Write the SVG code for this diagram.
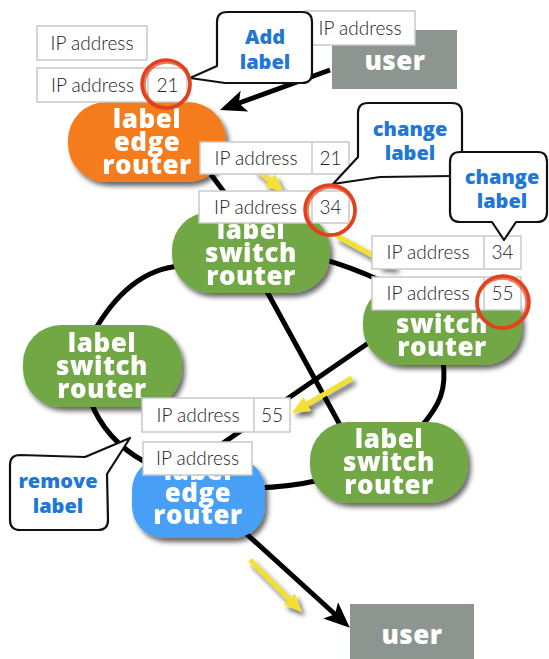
<svg xmlns="http://www.w3.org/2000/svg" width="549" height="659" viewBox="0 0 549 659">
<defs>
<filter id="sh" x="-20%" y="-20%" width="150%" height="150%">
<feGaussianBlur in="SourceAlpha" stdDeviation="2.5"/>
<feOffset dx="3" dy="4" result="b"/>
<feComponentTransfer><feFuncA type="linear" slope="0.6"/></feComponentTransfer>
<feMerge><feMergeNode/><feMergeNode in="SourceGraphic"/></feMerge>
</filter>
<marker id="ab" markerUnits="userSpaceOnUse" markerWidth="28" markerHeight="24" refX="10" refY="11" orient="auto" viewBox="0 0 28 24">
<path d="M0,0 L26,11 L0,22 L6,11 Z" fill="#000"/>
</marker>
<marker id="ay" markerUnits="userSpaceOnUse" markerWidth="20" markerHeight="18" refX="4" refY="8" orient="auto" viewBox="0 0 20 18">
<path d="M0,0 L18,8 L0,16 Z" fill="#F2E032"/>
</marker>
</defs>
<style>
.rt{font-family:"Open Sans","Liberation Sans",sans-serif;font-weight:800;font-size:26px;fill:#fff;text-anchor:middle;letter-spacing:0.5px}
.ip{fill:#fff;stroke:#c9c9c9;stroke-width:1.5}
.ipt{font-family:Lato,"Liberation Sans",sans-serif;font-weight:300;font-size:19px;fill:#222;text-anchor:middle}
.co{fill:#fff;stroke:#111;stroke-width:2.2;stroke-linejoin:round}
.cot{font-family:"Open Sans","Liberation Sans",sans-serif;font-weight:800;font-size:20px;fill:#1F77D6;text-anchor:middle}
.ln{fill:none;stroke:#000;stroke-width:5}
.yl{fill:none;stroke:#F2E032;stroke-width:5}
.rc{fill:none;stroke:#E2411C;stroke-width:3.5}
</style>

<g id="connectors">
<path class="ln" d="M200,160 L255,233"/>
<path class="ln" d="M290,252 Q345,260 420,300"/>
<path class="ln" d="M92,335 Q128,270 180,266"/>
<path class="ln" d="M90,400 Q105,440 145,462"/>
<path class="ln" d="M265,288 L340,425"/>
<path class="ln" d="M380,335 L210,452"/>
<path class="ln" d="M443,360 C447,390 440,405 420,428"/>
<path class="ln" d="M255,488 Q290,487 320,480"/>
<path class="ln" d="M330,70 L235,104.5" marker-end="url(#ab)"/>
<path class="ln" d="M240,528 L338,617" marker-end="url(#ab)"/>
<g filter="url(#sh)">
<path class="yl" d="M256,169 L273,183" marker-end="url(#ay)"/>
<path class="yl" d="M337,236 L385,262" marker-end="url(#ay)"/>
<path class="yl" d="M352,378 L304,406" marker-end="url(#ay)"/>
<path class="yl" d="M250,560 L292,602" marker-end="url(#ay)"/>
</g>
</g>

<g id="user-top">
<rect x="332" y="30" width="125" height="59" fill="#8C9590"/>
<text class="rt" x="395" y="70">user</text>
</g>
<g id="user-bottom">
<rect x="350" y="604" width="124" height="60" fill="#8C9590"/>
<text class="rt" x="412" y="644">user</text>
</g>

<g id="ler-top" filter="url(#sh)">
<rect x="68" y="102" width="158" height="80" rx="38" fill="#F57B1F"/>
<text class="rt" x="147" y="128">label</text>
<text class="rt" x="147" y="151">edge</text>
<text class="rt" x="147" y="174">router</text>
</g>
<g id="lsr-top" filter="url(#sh)">
<rect x="172" y="212" width="158" height="81" rx="38" fill="#72A745"/>
<text class="rt" x="251" y="239">label</text>
<text class="rt" x="251" y="262">switch</text>
<text class="rt" x="251" y="285">router</text>
</g>
<g id="lsr-right" filter="url(#sh)">
<rect x="363" y="284" width="159" height="81" rx="38" fill="#72A745"/>
<text class="rt" x="442" y="310">label</text>
<text class="rt" x="442" y="333">switch</text>
<text class="rt" x="442" y="356">router</text>
</g>
<g id="lsr-left" filter="url(#sh)">
<rect x="23" y="325" width="159" height="82" rx="38" fill="#72A745"/>
<text class="rt" x="102" y="352">label</text>
<text class="rt" x="102" y="375">switch</text>
<text class="rt" x="102" y="398">router</text>
</g>
<g id="lsr-bottom" filter="url(#sh)">
<rect x="310" y="422" width="158" height="81" rx="38" fill="#72A745"/>
<text class="rt" x="389" y="448">label</text>
<text class="rt" x="389" y="471">switch</text>
<text class="rt" x="389" y="494">router</text>
</g>
<g id="ler-bottom" filter="url(#sh)">
<rect x="132" y="458" width="133" height="80" rx="32" fill="#46A0F5"/>
<text class="rt" x="198" y="480">label</text>
<text class="rt" x="198" y="502">edge</text>
<text class="rt" x="198" y="524">router</text>
</g>

<g id="ip1">
<rect class="ip" x="37" y="26" width="110" height="34"/>
<text class="ipt" x="92" y="49.5">IP address</text>
</g>
<g id="ip2">
<rect class="ip" x="37" y="68" width="150" height="34"/>
<line class="ip" x1="148" y1="68" x2="148" y2="102"/>
<text class="ipt" x="92.5" y="91.5">IP address</text>
<text class="ipt" x="167.5" y="91.5">21</text>
</g>
<g id="ip3">
<rect class="ip" x="305" y="11" width="110" height="34"/>
<text class="ipt" x="360" y="34.5">IP address</text>
</g>
<g id="ip4">
<rect class="ip" x="200" y="142" width="149" height="32"/>
<line class="ip" x1="312" y1="142" x2="312" y2="174"/>
<text class="ipt" x="256" y="164.5">IP address</text>
<text class="ipt" x="330.5" y="164.5">21</text>
</g>
<g id="ip5">
<rect class="ip" x="199" y="191" width="150" height="32"/>
<line class="ip" x1="312" y1="191" x2="312" y2="223"/>
<text class="ipt" x="255.5" y="213.5">IP address</text>
<text class="ipt" x="330.5" y="213.5">34</text>
</g>
<g id="ip6">
<rect class="ip" x="372" y="236" width="149" height="33"/>
<line class="ip" x1="484" y1="236" x2="484" y2="269"/>
<text class="ipt" x="428" y="259">IP address</text>
<text class="ipt" x="502.5" y="259">34</text>
</g>
<g id="ip7">
<rect class="ip" x="372" y="277" width="149" height="33"/>
<line class="ip" x1="484" y1="277" x2="484" y2="310"/>
<text class="ipt" x="428" y="300">IP address</text>
<text class="ipt" x="502.5" y="300">55</text>
</g>
<g id="ip8">
<rect class="ip" x="142" y="398" width="148" height="34"/>
<line class="ip" x1="254" y1="398" x2="254" y2="432"/>
<text class="ipt" x="198" y="421.5">IP address</text>
<text class="ipt" x="272" y="421.5">55</text>
</g>
<g id="ip9">
<rect class="ip" x="143" y="442" width="109" height="33"/>
<text class="ipt" x="197.5" y="465">IP address</text>
</g>

<g id="callout-add">
<path class="co" d="M227,12 L302,12 Q312,12 312,22 L312,73 Q312,83 302,83 L225,83 L190,78 L217,66 L217,22 Q217,12 227,12 Z"/>
<text class="cot" x="265" y="44">Add</text>
<text class="cot" x="265" y="69">label</text>
</g>
<g id="callout-change1">
<path class="co" d="M358,157 L358,113 Q358,103 368,103 L452,103 Q462,103 462,113 L462,166 Q462,176 452,176 L380,177 L333,184 Z"/>
<text class="cot" x="410" y="136">change</text>
<text class="cot" x="410" y="160">label</text>
</g>
<g id="callout-change2">
<path class="co" d="M460,152 L538,152 Q547,152 547,162 L547,212 Q547,222 537,222 L516,222 L504,240 L492,222 L460,222 Q450,222 450,212 L450,162 Q450,152 460,152 Z"/>
<text class="cot" x="502" y="184">change</text>
<text class="cot" x="502" y="208">label</text>
</g>
<g id="callout-remove">
<path class="co" d="M20,455 L85,457 L130,438 L107,474 L108,520 Q108,530 98,530 L20,530 Q10,530 10,520 L10,465 Q10,455 20,455 Z"/>
<text class="cot" x="58" y="488">remove</text>
<text class="cot" x="58" y="513">label</text>
</g>

<g id="marks">
<circle class="rc" cx="166" cy="84" r="24"/>
<circle class="rc" cx="167" cy="85" r="23" stroke-width="2" opacity="0.7"/>
<circle class="rc" cx="330" cy="210" r="25"/>
<circle class="rc" cx="331" cy="211" r="24" stroke-width="2" opacity="0.7"/>
<circle class="rc" cx="503" cy="302" r="26"/>
<circle class="rc" cx="502" cy="303" r="25" stroke-width="2" opacity="0.7"/>
</g>
</svg>
